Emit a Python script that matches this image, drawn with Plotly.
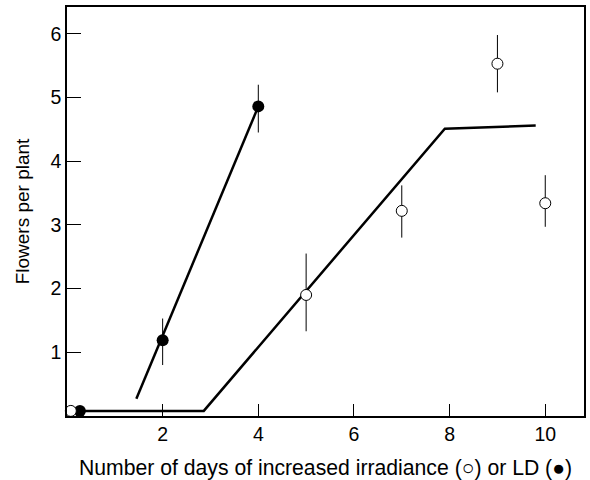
import plotly.graph_objects as go

# Data
ld_x = [0.27, 2, 4]
ld_y = [0.08, 1.19, 4.86]
ld_err_plus = [0, 0.34, 0.34]
ld_err_minus = [0, 0.39, 0.41]

irr_x = [0.08, 5, 7, 9, 10]
irr_y = [0.08, 1.9, 3.22, 5.53, 3.34]
irr_err_plus = [0, 0.65, 0.40, 0.45, 0.44]
irr_err_minus = [0, 0.57, 0.42, 0.45, 0.37]

ld_fit_x = [1.45, 4.0]
ld_fit_y = [0.27, 4.86]

irr_fit_x = [0.1, 2.86, 7.9, 9.8]
irr_fit_y = [0.08, 0.08, 4.51, 4.56]

x_ticks = [2, 4, 6, 8, 10]
y_ticks = [1, 2, 3, 4, 5, 6]

FONT = "Liberation Sans, Arial, Helvetica, sans-serif"

fig = go.Figure()
fig.add_trace(go.Scatter(x=irr_fit_x, y=irr_fit_y, mode="lines",
                         line=dict(color="black", width=2.5), showlegend=False,
                         cliponaxis=False))
fig.add_trace(go.Scatter(x=ld_fit_x, y=ld_fit_y, mode="lines",
                         line=dict(color="black", width=2.5), showlegend=False,
                         cliponaxis=False))
fig.add_trace(go.Scatter(x=ld_x, y=ld_y, mode="markers",
                         marker=dict(color="black", size=12, symbol="circle"),
                         error_y=dict(type="data", symmetric=False, array=ld_err_plus,
                                      arrayminus=ld_err_minus, color="black",
                                      thickness=1, width=0),
                         showlegend=False, cliponaxis=False))
fig.add_trace(go.Scatter(x=irr_x, y=irr_y, mode="markers",
                         marker=dict(color="white", size=11, symbol="circle",
                                     line=dict(color="black", width=1)),
                         error_y=dict(type="data", symmetric=False, array=irr_err_plus,
                                      arrayminus=irr_err_minus, color="black",
                                      thickness=1, width=0),
                         showlegend=False, cliponaxis=False))

fig.update_layout(
    width=590, height=480,
    margin=dict(l=67, r=4, t=7, b=63),
    paper_bgcolor="white", plot_bgcolor="white",
    font=dict(family=FONT, color="black", size=18),
    xaxis=dict(range=[0, 10.81], tickvals=x_ticks, ticktext=[str(v) for v in x_ticks],
               ticks="inside", ticklen=12, tickwidth=1, tickcolor="black",
               showgrid=False, zeroline=False, showline=True, linecolor="black",
               linewidth=1.5, mirror=True,
               title=dict(text="Number of days of increased irradiance (○) or LD (●)",
                          font=dict(size=21.2), standoff=16),
               tickfont=dict(size=19.5)),
    yaxis=dict(range=[0, 6.42], tickvals=y_ticks, ticktext=[str(v) for v in y_ticks],
               ticks="inside", ticklen=14, tickwidth=1, tickcolor="black",
               showgrid=False, zeroline=False, showline=True, linecolor="black",
               linewidth=1.5, mirror=True,
               title=dict(text="Flowers per plant", font=dict(size=19), standoff=16),
               tickfont=dict(size=19.5)),
)

fig.write_html("out.html")
